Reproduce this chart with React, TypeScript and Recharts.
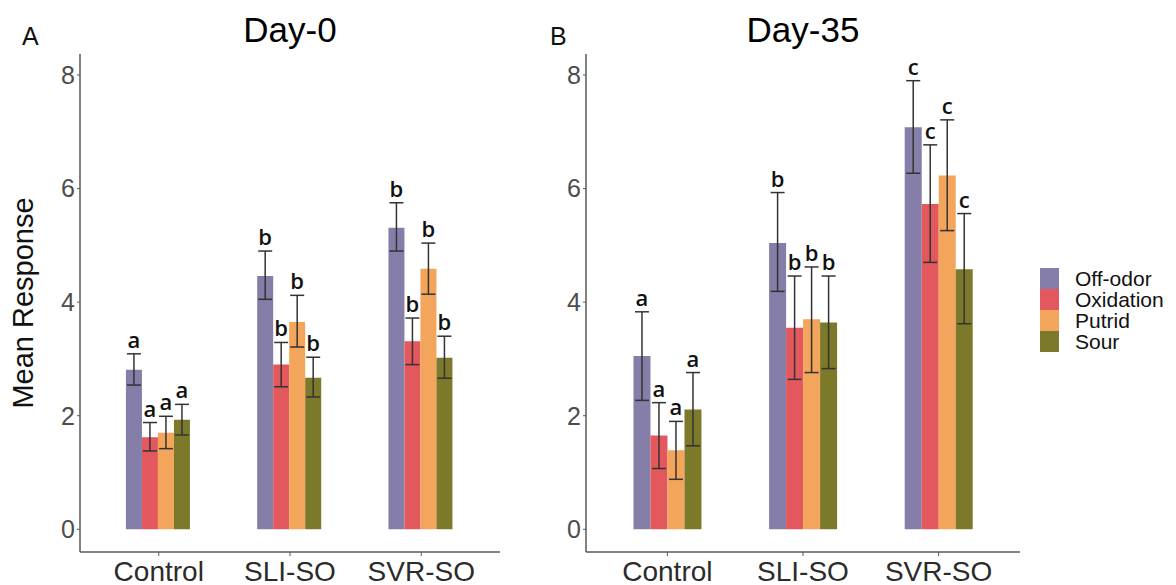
import { BarChart, Bar, XAxis, YAxis, ErrorBar, LabelList, Legend } from "recharts";

const categories = ["Control", "SLI-SO", "SVR-SO"];
const attributes = ["Off-odor", "Oxidation", "Putrid", "Sour"];
const colors = ["#847EA9", "#E3585C", "#F2A55B", "#7C7A2A"];
const yTicks = [0, 2, 4, 6, 8];

// Day-0: means per attribute, across categories
const day0Means = [
  [2.81, 4.46, 5.31],
  [1.62, 2.9, 3.31],
  [1.7, 3.65, 4.59],
  [1.93, 2.67, 3.02],
];
const day0Low = [
  [2.54, 4.05, 4.9],
  [1.38, 2.51, 2.9],
  [1.42, 3.21, 4.14],
  [1.66, 2.33, 2.66],
];
const day0High = [
  [3.09, 4.9, 5.75],
  [1.88, 3.29, 3.72],
  [1.99, 4.12, 5.04],
  [2.2, 3.03, 3.4],
];
const day0Letters = ["a", "b", "b"];

// Day-35
const day35Means = [
  [3.05, 5.04, 7.08],
  [1.65, 3.55, 5.73],
  [1.39, 3.7, 6.23],
  [2.11, 3.64, 4.58],
];
const day35Low = [
  [2.27, 4.19, 6.27],
  [1.07, 2.64, 4.7],
  [0.88, 2.76, 5.26],
  [1.47, 2.83, 3.62],
];
const day35High = [
  [3.83, 5.93, 7.9],
  [2.23, 4.46, 6.77],
  [1.9, 4.62, 7.21],
  [2.76, 4.46, 5.56],
];
const day35Letters = ["a", "b", "c"];

const AXIS = "#595959";
const SANS = "'Liberation Sans', Arial, sans-serif";

function buildRows(means: number[][], low: number[][], high: number[][], letters: string[]) {
  return categories.map((name, i) => {
    const row: Record<string, unknown> = { name };
    attributes.forEach((_, s) => {
      const v = means[s][i];
      row[`v${s}`] = v;
      row[`e${s}`] = [v - low[s][i], high[s][i] - v];
      row[`l${s}`] = letters[i];
    });
    return row;
  });
}

function makeLetter(means: number[][], high: number[][], s: number) {
  return (props: any) => {
    const { x, y, width, height, value, index } = props;
    const v = means[s][index];
    const base = Number(y) + Number(height);
    const top = base - (high[s][index] * Number(height)) / v;
    return (
      <text
        x={Number(x) + Number(width) / 2}
        y={top - 6}
        textAnchor="middle"
        fontFamily="'Open Sans', sans-serif"
        fontWeight={600}
        fontSize={22}
        fill="#111"
      >
        {value}
      </text>
    );
  };
}

function LegendBox({ payload }: any) {
  return (
    <div style={{ fontFamily: SANS, fontSize: 21, color: "#111" }}>
      {(payload || []).map((p: any) => (
        <div key={p.value} style={{ display: "flex", alignItems: "center", height: 21 }}>
          <span style={{ width: 19, height: 21, background: p.color, display: "inline-block" }} />
          <span style={{ marginLeft: 16, lineHeight: "21px" }}>{p.value}</span>
        </div>
      ))}
    </div>
  );
}

function Panel({
  means,
  low,
  high,
  letters,
  width,
  left,
  right,
  yWidth,
  legend,
}: {
  means: number[][];
  low: number[][];
  high: number[][];
  letters: string[];
  width: number;
  left: number;
  right: number;
  yWidth: number;
  legend?: boolean;
}) {
  const data = buildRows(means, low, high, letters);
  const plotW = width - left - right - yWidth;
  const pad = (0.1 * plotW) / 3.2;
  return (
    <BarChart
      width={width}
      height={585}
      data={data}
      margin={{ top: 54, right, bottom: 0, left }}
      barCategoryGap="25%"
      barGap={0}
    >
      <XAxis
        dataKey="name"
        height={33}
        padding={{ left: pad, right: pad }}
        tickSize={4}
        tickMargin={5}
        axisLine={{ stroke: AXIS, strokeWidth: 1.5 }}
        tickLine={{ stroke: AXIS }}
        tick={{ fontSize: 28, fill: "#2b2b2b", fontFamily: SANS }}
      />
      <YAxis
        width={yWidth}
        domain={[-0.4, 8.37]}
        allowDataOverflow
        ticks={yTicks}
        tickSize={3}
        tickMargin={2}
        axisLine={{ stroke: AXIS, strokeWidth: 1.5 }}
        tickLine={{ stroke: AXIS }}
        tick={{ fontSize: 25, fill: "#4d4d4d", fontFamily: SANS }}
      />
      {legend && (
        <Legend
          layout="vertical"
          align="center"
          verticalAlign="middle"
          content={<LegendBox />}
          wrapperStyle={{ position: "absolute", left: 500, top: 268, width: 136 }}
        />
      )}
      {attributes.map((a, s) => (
        <Bar key={a} dataKey={`v${s}`} name={a} fill={colors[s]} isAnimationActive={false}>
          <ErrorBar dataKey={`e${s}`} width={7} stroke="#333" strokeWidth={1.5} />
          <LabelList dataKey={`l${s}`} content={makeLetter(means, high, s)} />
        </Bar>
      ))}
    </BarChart>
  );
}

export default function App() {
  return (
    <div style={{ position: "absolute", left: 0, top: 0, width: 1176, height: 585, background: "#fff" }}>
      <div style={{ position: "absolute", left: 0, top: 0 }}>
        <Panel
          means={day0Means}
          low={day0Low}
          high={day0High}
          letters={day0Letters}
          width={540}
          left={40}
          right={40}
          yWidth={40}
        />
      </div>
      <div style={{ position: "absolute", left: 540, top: 0 }}>
        <Panel
          means={day35Means}
          low={day35Low}
          high={day35High}
          letters={day35Letters}
          width={636}
          left={10}
          right={156}
          yWidth={36}
          legend
        />
      </div>
      <svg
        width={1176}
        height={585}
        style={{ position: "absolute", left: 0, top: 0, pointerEvents: "none" }}
        fontFamily={SANS}
      >
        <text x={22} y={45} fontSize={25} fill="#111">A</text>
        <text x={550} y={45} fontSize={25} fill="#111">B</text>
        <text x={290} y={42} fontSize={35} textAnchor="middle" fill="#000">Day-0</text>
        <text x={803} y={42} fontSize={35} textAnchor="middle" fill="#000">Day-35</text>
        <text transform="translate(33,303) rotate(-90)" fontSize={29} textAnchor="middle" fill="#111">
          Mean Response
        </text>
      </svg>
    </div>
  );
}
